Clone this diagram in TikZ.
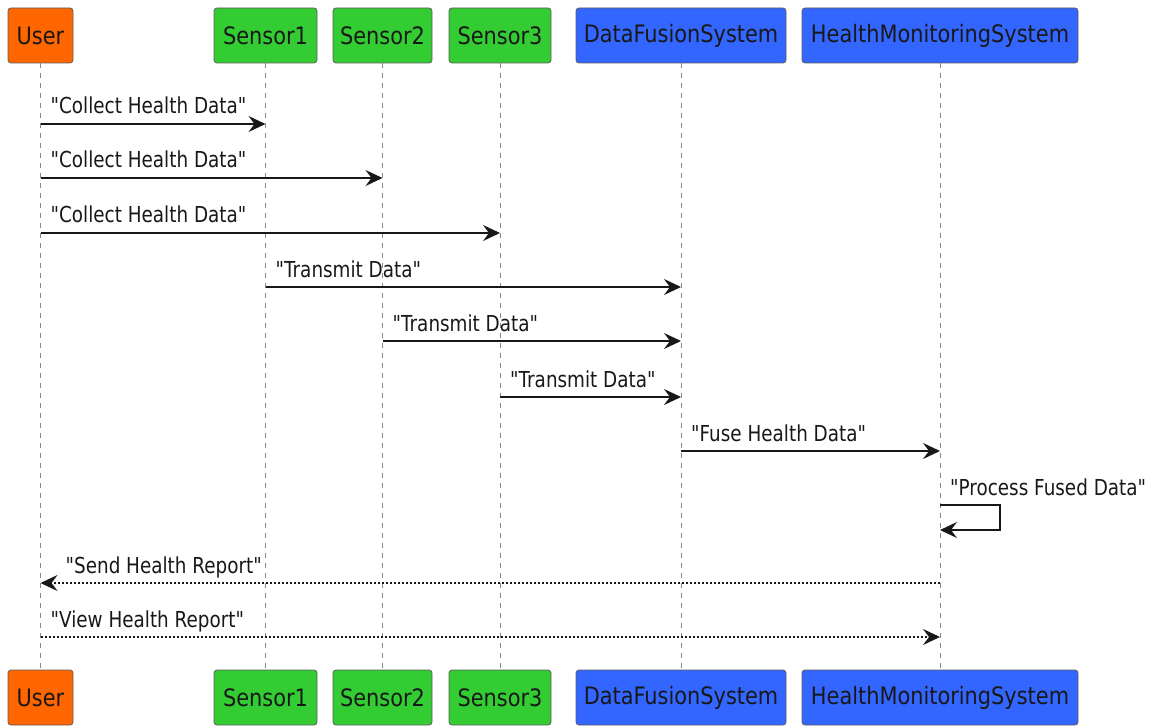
\documentclass[tikz,border=0pt]{standalone}
\usepackage{fontspec}
\setmainfont{DejaVu Sans}[FakeStretch=0.835, Ligatures=TeXOff]
\newfontfamily\partfont{DejaVu Sans}[FakeStretch=0.87, Ligatures=TeXOff]
\usetikzlibrary{arrows.meta,calc}
\definecolor{uorange}{HTML}{FF6600}
\definecolor{sgreen}{HTML}{33CC33}
\definecolor{sblue}{HTML}{3366FF}
\definecolor{ink}{HTML}{181818}
\definecolor{lifegray}{HTML}{888888}
\begin{document}
\begin{tikzpicture}[x=1pt,y=-1pt,
 part/.style={draw=ink!70, line width=0.8pt, rounded corners=3pt, minimum height=55pt, inner sep=0pt, font=\partfont\fontsize{24}{28}\selectfont, text=ink},
 life/.style={draw=lifegray, line width=1pt, dash pattern=on 5pt off 5pt},
 msg/.style={draw=ink, line width=1.5pt, -{Stealth[length=17pt,width=16pt,inset=6pt]}},
 ret/.style={msg, dash pattern=on 2pt off 2pt},
 lbl/.style={font=\fontsize{22}{26}\selectfont, text=ink, inner sep=0pt, anchor=base west}]
\useasboundingbox (0,0) rectangle (1153,727);
% participants top
\node[part, fill=uorange, minimum width=65pt] (userT) at (40.5,35.5) {User};
\node[part, fill=sgreen, minimum width=103pt] (s1T) at (265.5,35.5) {Sensor1};
\node[part, fill=sgreen, minimum width=99pt] (s2T) at (382.5,35.5) {Sensor2};
\node[part, fill=sgreen, minimum width=102pt] (s3T) at (500,35.5) {Sensor3};
\node[part, fill=sblue, minimum width=210pt] (dfsT) at (681,35.5) {DataFusionSystem};
\node[part, fill=sblue, minimum width=276pt] (hmsT) at (940,35.5) {HealthMonitoringSystem};
% participants bottom
\node[part, fill=uorange, minimum width=65pt] (userB) at (40.5,697.5) {User};
\node[part, fill=sgreen, minimum width=103pt] (s1B) at (265.5,697.5) {Sensor1};
\node[part, fill=sgreen, minimum width=99pt] (s2B) at (382.5,697.5) {Sensor2};
\node[part, fill=sgreen, minimum width=102pt] (s3B) at (500,697.5) {Sensor3};
\node[part, fill=sblue, minimum width=210pt] (dfsB) at (681,697.5) {DataFusionSystem};
\node[part, fill=sblue, minimum width=276pt] (hmsB) at (940,697.5) {HealthMonitoringSystem};
% lifelines
\draw[life] (userT.south) -- (userB.north);
\draw[life] (s1T.south) -- (s1B.north);
\draw[life] (s2T.south) -- (s2B.north);
\draw[life] (s3T.south) -- (s3B.north);
\draw[life] (dfsT.south) -- (dfsB.north);
\draw[life] (hmsT.south) -- (hmsB.north);
% message rows
\coordinate (m1) at (0,124);
\coordinate (m2) at (0,178);
\coordinate (m3) at (0,233);
\coordinate (m4) at (0,287);
\coordinate (m5) at (0,341);
\coordinate (m6) at (0,397);
\coordinate (m7) at (0,451);
\coordinate (m8) at (0,505);
\coordinate (m8b) at (0,530);
\coordinate (m9) at (0,583);
\coordinate (m10) at (0,637);
% messages
\draw[msg] (userT |- m1) -- (s1T |- m1);
\node[lbl] (l1) at ($(userT |- m1)+(10,-10)$) {"Collect Health Data"};
\draw[msg] (userT |- m2) -- (s2T |- m2);
\node[lbl] (l2) at ($(userT |- m2)+(10,-10)$) {"Collect Health Data"};
\draw[msg] (userT |- m3) -- (s3T |- m3);
\node[lbl] (l3) at ($(userT |- m3)+(10,-10)$) {"Collect Health Data"};
\draw[msg] (s1T |- m4) -- (dfsT |- m4);
\node[lbl] (l4) at ($(s1T |- m4)+(10,-10)$) {"Transmit Data"};
\draw[msg] (s2T |- m5) -- (dfsT |- m5);
\node[lbl] (l5) at ($(s2T |- m5)+(10,-10)$) {"Transmit Data"};
\draw[msg] (s3T |- m6) -- (dfsT |- m6);
\node[lbl] (l6) at ($(s3T |- m6)+(10,-10)$) {"Transmit Data"};
\draw[msg] (dfsT |- m7) -- (hmsT |- m7);
\node[lbl] (l7) at ($(dfsT |- m7)+(10,-10)$) {"Fuse Health Data"};
\draw[msg] (hmsT |- m8) -- ++(60,0) -- ++(0,25) -- (hmsT |- m8b);
\node[lbl] (l8) at ($(hmsT |- m8)+(10,-10)$) {"Process Fused Data"};
\draw[ret] (hmsT |- m9) -- (userT |- m9);
\node[lbl] (l9) at ($(userT |- m9)+(25,-10)$) {"Send Health Report"};
\draw[ret] (userT |- m10) -- (hmsT |- m10);
\node[lbl] (l10) at ($(userT |- m10)+(10,-10)$) {"View Health Report"};
\end{tikzpicture}
\end{document}
